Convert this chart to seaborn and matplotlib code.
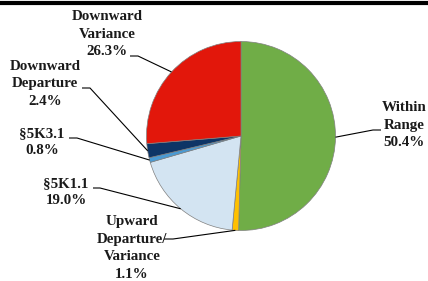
import numpy as np
import matplotlib
matplotlib.use("Agg")
import matplotlib.pyplot as plt
from matplotlib.lines import Line2D
import seaborn as sns

# slice data, clockwise from 12 o'clock
categories = ["Within\nRange", "Upward\nDeparture/\nVariance", "§5K1.1",
              "§5K3.1", "Downward\nDeparture", "Downward\nVariance"]
shares = [50.4, 1.1, 19.0, 0.8, 2.4, 26.3]
colors = ["#70AD47", "#FFC000", "#D3E4F2", "#4A9AD3", "#0E3566", "#E2170B"]

# label layout in pixels (top-left origin): text centre, leader kink, leader end at text
label_pos = [(404, 125), (132, 248), (66, 192), (42, 142), (45, 84), (107, 34)]
leader_end = [(381, 130), (164, 239), (93, 188), (69, 138), (82, 88), (130, 56)]
leader_kink = [(373, 130), (173, 239), (100, 188), (77, 138), (90, 88), (138, 56)]

W, H = 428, 281
cx, cy, r = 241, 136, 94.5

sns.set_style("white")
plt.rcParams['font.family'] = ['Liberation Serif', 'DejaVu Serif']

fig = plt.figure(figsize=(W / 100, H / 100), dpi=100)
ax = fig.add_axes([0, 0, 1, 1])

wedges, _ = ax.pie(shares, colors=colors, startangle=90, counterclock=False,
                   center=(cx, H - cy), radius=r, frame=True,
                   wedgeprops=dict(edgecolor="#808080", linewidth=0.5))
ax.set_xlim(0, W)
ax.set_ylim(0, H)
ax.axis("off")

for w, cat, val, (tx, ty), (ex, ey), (kx, ky) in zip(
        wedges, categories, shares, label_pos, leader_end, leader_kink):
    mid = np.deg2rad((w.theta1 + w.theta2) / 2)
    px = cx + r * np.cos(mid)
    py = (H - cy) + r * np.sin(mid)
    ax.plot([px, kx, ex], [py, H - ky, H - ey], color="black", lw=0.8,
            solid_capstyle="butt")
    ax.text(tx, H - ty, f"{cat}\n{val:.1f}%", ha="center", va="center",
            fontsize=10.8, fontweight="bold", linespacing=1.45, color="#1a1a1a")

# thick rule at the top
fig.add_artist(Line2D([0, 1], [1 - 3 / H, 1 - 3 / H], color="black", lw=3,
                      transform=fig.transFigure))

fig.savefig("out.png", dpi=100)
